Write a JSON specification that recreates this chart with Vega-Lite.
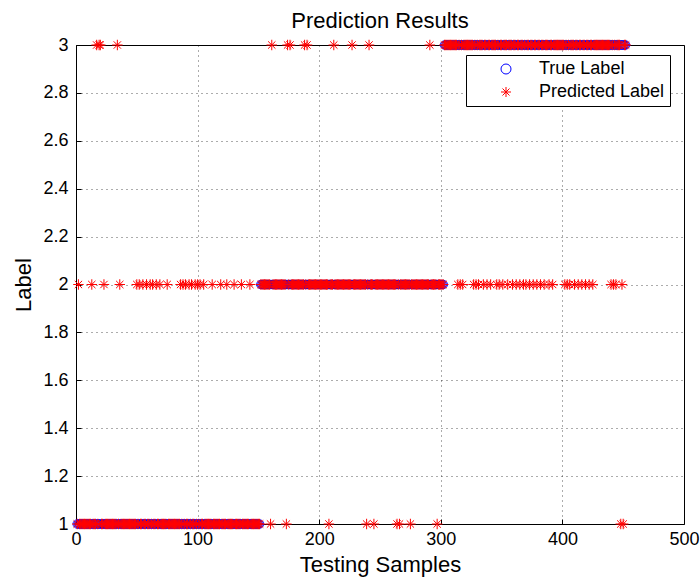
{
"$schema":"https://vega.github.io/schema/vega-lite/v6.json",
"width":608,"height":479,
"autosize":{"type":"none"},
"padding":{"left":76,"top":45,"right":16,"bottom":55},
"background":"white",
"title":{"text":"Prediction Results","fontSize":22,"font":"Liberation Sans","fontWeight":"normal","color":"black","offset":3},
"config":{"view":{"stroke":"black","strokeWidth":1},"font":"Liberation Sans"},
"data":{"values":[
{"s":1,"t":1,"p":1},{"s":2,"t":1,"p":2},{"s":3,"t":1,"p":1},{"s":4,"t":1,"p":1},{"s":5,"t":1,"p":1},{"s":6,"t":1,"p":1},{"s":7,"t":1,"p":1},{"s":8,"t":1,"p":1},{"s":9,"t":1,"p":1},{"s":10,"t":1,"p":1},
{"s":11,"t":1,"p":1},{"s":12,"t":1,"p":1},{"s":13,"t":1,"p":2},{"s":14,"t":1,"p":1},{"s":15,"t":1,"p":1},{"s":16,"t":1,"p":1},{"s":17,"t":1,"p":3},{"s":18,"t":1,"p":1},{"s":19,"t":1,"p":3},{"s":20,"t":1,"p":3},
{"s":21,"t":1,"p":1},{"s":22,"t":1,"p":1},{"s":23,"t":1,"p":2},{"s":24,"t":1,"p":1},{"s":25,"t":1,"p":1},{"s":26,"t":1,"p":1},{"s":27,"t":1,"p":1},{"s":28,"t":1,"p":1},{"s":29,"t":1,"p":1},{"s":30,"t":1,"p":1},
{"s":31,"t":1,"p":1},{"s":32,"t":1,"p":1},{"s":33,"t":1,"p":1},{"s":34,"t":1,"p":3},{"s":35,"t":1,"p":1},{"s":36,"t":1,"p":2},{"s":37,"t":1,"p":1},{"s":38,"t":1,"p":1},{"s":39,"t":1,"p":1},{"s":40,"t":1,"p":1},
{"s":41,"t":1,"p":1},{"s":42,"t":1,"p":1},{"s":43,"t":1,"p":1},{"s":44,"t":1,"p":1},{"s":45,"t":1,"p":1},{"s":46,"t":1,"p":1},{"s":47,"t":1,"p":1},{"s":48,"t":1,"p":1},{"s":49,"t":1,"p":1},{"s":50,"t":1,"p":2},
{"s":51,"t":1,"p":1},{"s":52,"t":1,"p":2},{"s":53,"t":1,"p":1},{"s":54,"t":1,"p":1},{"s":55,"t":1,"p":2},{"s":56,"t":1,"p":1},{"s":57,"t":1,"p":1},{"s":58,"t":1,"p":2},{"s":59,"t":1,"p":1},{"s":60,"t":1,"p":1},
{"s":61,"t":1,"p":2},{"s":62,"t":1,"p":1},{"s":63,"t":1,"p":2},{"s":64,"t":1,"p":1},{"s":65,"t":1,"p":1},{"s":66,"t":1,"p":2},{"s":67,"t":1,"p":1},{"s":68,"t":1,"p":1},{"s":69,"t":1,"p":2},{"s":70,"t":1,"p":1},
{"s":71,"t":1,"p":1},{"s":72,"t":1,"p":1},{"s":73,"t":1,"p":1},{"s":74,"t":1,"p":1},{"s":75,"t":1,"p":2},{"s":76,"t":1,"p":1},{"s":77,"t":1,"p":1},{"s":78,"t":1,"p":1},{"s":79,"t":1,"p":1},{"s":80,"t":1,"p":1},
{"s":81,"t":1,"p":1},{"s":82,"t":1,"p":1},{"s":83,"t":1,"p":1},{"s":84,"t":1,"p":1},{"s":85,"t":1,"p":1},{"s":86,"t":1,"p":2},{"s":87,"t":1,"p":1},{"s":88,"t":1,"p":2},{"s":89,"t":1,"p":1},{"s":90,"t":1,"p":2},
{"s":91,"t":1,"p":1},{"s":92,"t":1,"p":1},{"s":93,"t":1,"p":2},{"s":94,"t":1,"p":1},{"s":95,"t":1,"p":2},{"s":96,"t":1,"p":1},{"s":97,"t":1,"p":1},{"s":98,"t":1,"p":2},{"s":99,"t":1,"p":1},{"s":100,"t":1,"p":2},
{"s":101,"t":1,"p":1},{"s":102,"t":1,"p":2},{"s":103,"t":1,"p":1},{"s":104,"t":1,"p":1},{"s":105,"t":1,"p":2},{"s":106,"t":1,"p":1},{"s":107,"t":1,"p":1},{"s":108,"t":1,"p":1},{"s":109,"t":1,"p":1},{"s":110,"t":1,"p":1},
{"s":111,"t":1,"p":1},{"s":112,"t":1,"p":2},{"s":113,"t":1,"p":1},{"s":114,"t":1,"p":1},{"s":115,"t":1,"p":1},{"s":116,"t":1,"p":1},{"s":117,"t":1,"p":1},{"s":118,"t":1,"p":1},{"s":119,"t":1,"p":2},{"s":120,"t":1,"p":1},
{"s":121,"t":1,"p":1},{"s":122,"t":1,"p":1},{"s":123,"t":1,"p":1},{"s":124,"t":1,"p":2},{"s":125,"t":1,"p":1},{"s":126,"t":1,"p":1},{"s":127,"t":1,"p":1},{"s":128,"t":1,"p":1},{"s":129,"t":1,"p":1},{"s":130,"t":1,"p":2},
{"s":131,"t":1,"p":1},{"s":132,"t":1,"p":1},{"s":133,"t":1,"p":1},{"s":134,"t":1,"p":1},{"s":135,"t":1,"p":1},{"s":136,"t":1,"p":2},{"s":137,"t":1,"p":1},{"s":138,"t":1,"p":1},{"s":139,"t":1,"p":1},{"s":140,"t":1,"p":1},
{"s":141,"t":1,"p":1},{"s":142,"t":1,"p":1},{"s":143,"t":1,"p":2},{"s":144,"t":1,"p":1},{"s":145,"t":1,"p":1},{"s":146,"t":1,"p":1},{"s":147,"t":1,"p":1},{"s":148,"t":1,"p":1},{"s":149,"t":1,"p":1},{"s":150,"t":1,"p":1},
{"s":151,"t":1,"p":1},{"s":152,"t":2,"p":2},{"s":153,"t":2,"p":2},{"s":154,"t":2,"p":2},{"s":155,"t":2,"p":2},{"s":156,"t":2,"p":2},{"s":157,"t":2,"p":2},{"s":158,"t":2,"p":2},{"s":159,"t":2,"p":2},{"s":160,"t":2,"p":1},
{"s":161,"t":2,"p":3},{"s":162,"t":2,"p":2},{"s":163,"t":2,"p":2},{"s":164,"t":2,"p":2},{"s":165,"t":2,"p":2},{"s":166,"t":2,"p":2},{"s":167,"t":2,"p":2},{"s":168,"t":2,"p":2},{"s":169,"t":2,"p":2},{"s":170,"t":2,"p":2},
{"s":171,"t":2,"p":2},{"s":172,"t":2,"p":2},{"s":173,"t":2,"p":1},{"s":174,"t":2,"p":3},{"s":175,"t":2,"p":2},{"s":176,"t":2,"p":3},{"s":177,"t":2,"p":2},{"s":178,"t":2,"p":2},{"s":179,"t":2,"p":2},{"s":180,"t":2,"p":2},
{"s":181,"t":2,"p":2},{"s":182,"t":2,"p":2},{"s":183,"t":2,"p":2},{"s":184,"t":2,"p":2},{"s":185,"t":2,"p":2},{"s":186,"t":2,"p":2},{"s":187,"t":2,"p":2},{"s":188,"t":2,"p":3},{"s":189,"t":2,"p":2},{"s":190,"t":2,"p":3},
{"s":191,"t":2,"p":2},{"s":192,"t":2,"p":2},{"s":193,"t":2,"p":2},{"s":194,"t":2,"p":2},{"s":195,"t":2,"p":2},{"s":196,"t":2,"p":2},{"s":197,"t":2,"p":2},{"s":198,"t":2,"p":2},{"s":199,"t":2,"p":2},{"s":200,"t":2,"p":2},
{"s":201,"t":2,"p":2},{"s":202,"t":2,"p":2},{"s":203,"t":2,"p":2},{"s":204,"t":2,"p":2},{"s":205,"t":2,"p":2},{"s":206,"t":2,"p":2},{"s":207,"t":2,"p":2},{"s":208,"t":2,"p":1},{"s":209,"t":2,"p":2},{"s":210,"t":2,"p":2},
{"s":211,"t":2,"p":2},{"s":212,"t":2,"p":3},{"s":213,"t":2,"p":2},{"s":214,"t":2,"p":2},{"s":215,"t":2,"p":2},{"s":216,"t":2,"p":2},{"s":217,"t":2,"p":2},{"s":218,"t":2,"p":2},{"s":219,"t":2,"p":2},{"s":220,"t":2,"p":2},
{"s":221,"t":2,"p":2},{"s":222,"t":2,"p":2},{"s":223,"t":2,"p":2},{"s":224,"t":2,"p":2},{"s":225,"t":2,"p":2},{"s":226,"t":2,"p":2},{"s":227,"t":2,"p":3},{"s":228,"t":2,"p":2},{"s":229,"t":2,"p":2},{"s":230,"t":2,"p":2},
{"s":231,"t":2,"p":2},{"s":232,"t":2,"p":2},{"s":233,"t":2,"p":2},{"s":234,"t":2,"p":2},{"s":235,"t":2,"p":2},{"s":236,"t":2,"p":2},{"s":237,"t":2,"p":2},{"s":238,"t":2,"p":2},{"s":239,"t":2,"p":1},{"s":240,"t":2,"p":2},
{"s":241,"t":2,"p":3},{"s":242,"t":2,"p":2},{"s":243,"t":2,"p":2},{"s":244,"t":2,"p":2},{"s":245,"t":2,"p":1},{"s":246,"t":2,"p":2},{"s":247,"t":2,"p":2},{"s":248,"t":2,"p":2},{"s":249,"t":2,"p":2},{"s":250,"t":2,"p":2},
{"s":251,"t":2,"p":2},{"s":252,"t":2,"p":2},{"s":253,"t":2,"p":2},{"s":254,"t":2,"p":2},{"s":255,"t":2,"p":2},{"s":256,"t":2,"p":2},{"s":257,"t":2,"p":2},{"s":258,"t":2,"p":2},{"s":259,"t":2,"p":2},{"s":260,"t":2,"p":2},
{"s":261,"t":2,"p":2},{"s":262,"t":2,"p":2},{"s":263,"t":2,"p":2},{"s":264,"t":2,"p":1},{"s":265,"t":2,"p":2},{"s":266,"t":2,"p":1},{"s":267,"t":2,"p":2},{"s":268,"t":2,"p":2},{"s":269,"t":2,"p":2},{"s":270,"t":2,"p":2},
{"s":271,"t":2,"p":2},{"s":272,"t":2,"p":2},{"s":273,"t":2,"p":2},{"s":274,"t":2,"p":2},{"s":275,"t":2,"p":1},{"s":276,"t":2,"p":2},{"s":277,"t":2,"p":2},{"s":278,"t":2,"p":2},{"s":279,"t":2,"p":2},{"s":280,"t":2,"p":2},
{"s":281,"t":2,"p":2},{"s":282,"t":2,"p":2},{"s":283,"t":2,"p":2},{"s":284,"t":2,"p":2},{"s":285,"t":2,"p":2},{"s":286,"t":2,"p":2},{"s":287,"t":2,"p":2},{"s":288,"t":2,"p":2},{"s":289,"t":2,"p":2},{"s":290,"t":2,"p":2},
{"s":291,"t":2,"p":3},{"s":292,"t":2,"p":2},{"s":293,"t":2,"p":2},{"s":294,"t":2,"p":2},{"s":295,"t":2,"p":2},{"s":296,"t":2,"p":2},{"s":297,"t":2,"p":1},{"s":298,"t":2,"p":2},{"s":299,"t":2,"p":2},{"s":300,"t":2,"p":2},
{"s":301,"t":2,"p":2},{"s":302,"t":2,"p":2},{"s":303,"t":3,"p":3},{"s":304,"t":3,"p":3},{"s":305,"t":3,"p":3},{"s":306,"t":3,"p":3},{"s":307,"t":3,"p":3},{"s":308,"t":3,"p":3},{"s":309,"t":3,"p":3},{"s":310,"t":3,"p":3},
{"s":311,"t":3,"p":3},{"s":312,"t":3,"p":3},{"s":313,"t":3,"p":3},{"s":314,"t":3,"p":2},{"s":315,"t":3,"p":3},{"s":316,"t":3,"p":2},{"s":317,"t":3,"p":3},{"s":318,"t":3,"p":2},{"s":319,"t":3,"p":3},{"s":320,"t":3,"p":3},
{"s":321,"t":3,"p":3},{"s":322,"t":3,"p":3},{"s":323,"t":3,"p":3},{"s":324,"t":3,"p":3},{"s":325,"t":3,"p":3},{"s":326,"t":3,"p":3},{"s":327,"t":3,"p":2},{"s":328,"t":3,"p":3},{"s":329,"t":3,"p":2},{"s":330,"t":3,"p":3},
{"s":331,"t":3,"p":2},{"s":332,"t":3,"p":3},{"s":333,"t":3,"p":3},{"s":334,"t":3,"p":3},{"s":335,"t":3,"p":2},{"s":336,"t":3,"p":3},{"s":337,"t":3,"p":3},{"s":338,"t":3,"p":2},{"s":339,"t":3,"p":3},{"s":340,"t":3,"p":3},
{"s":341,"t":3,"p":2},{"s":342,"t":3,"p":3},{"s":343,"t":3,"p":3},{"s":344,"t":3,"p":3},{"s":345,"t":3,"p":3},{"s":346,"t":3,"p":2},{"s":347,"t":3,"p":3},{"s":348,"t":3,"p":2},{"s":349,"t":3,"p":3},{"s":350,"t":3,"p":3},
{"s":351,"t":3,"p":2},{"s":352,"t":3,"p":3},{"s":353,"t":3,"p":3},{"s":354,"t":3,"p":3},{"s":355,"t":3,"p":2},{"s":356,"t":3,"p":3},{"s":357,"t":3,"p":3},{"s":358,"t":3,"p":3},{"s":359,"t":3,"p":2},{"s":360,"t":3,"p":3},
{"s":361,"t":3,"p":3},{"s":362,"t":3,"p":2},{"s":363,"t":3,"p":3},{"s":364,"t":3,"p":3},{"s":365,"t":3,"p":2},{"s":366,"t":3,"p":3},{"s":367,"t":3,"p":3},{"s":368,"t":3,"p":2},{"s":369,"t":3,"p":3},{"s":370,"t":3,"p":2},
{"s":371,"t":3,"p":3},{"s":372,"t":3,"p":3},{"s":373,"t":3,"p":2},{"s":374,"t":3,"p":3},{"s":375,"t":3,"p":3},{"s":376,"t":3,"p":2},{"s":377,"t":3,"p":3},{"s":378,"t":3,"p":3},{"s":379,"t":3,"p":2},{"s":380,"t":3,"p":3},
{"s":381,"t":3,"p":3},{"s":382,"t":3,"p":2},{"s":383,"t":3,"p":3},{"s":384,"t":3,"p":3},{"s":385,"t":3,"p":2},{"s":386,"t":3,"p":3},{"s":387,"t":3,"p":3},{"s":388,"t":3,"p":3},{"s":389,"t":3,"p":2},{"s":390,"t":3,"p":3},
{"s":391,"t":3,"p":3},{"s":392,"t":3,"p":2},{"s":393,"t":3,"p":3},{"s":394,"t":3,"p":3},{"s":395,"t":3,"p":3},{"s":396,"t":3,"p":3},{"s":397,"t":3,"p":3},{"s":398,"t":3,"p":3},{"s":399,"t":3,"p":3},{"s":400,"t":3,"p":3},
{"s":401,"t":3,"p":3},{"s":402,"t":3,"p":2},{"s":403,"t":3,"p":3},{"s":404,"t":3,"p":2},{"s":405,"t":3,"p":3},{"s":406,"t":3,"p":2},{"s":407,"t":3,"p":3},{"s":408,"t":3,"p":3},{"s":409,"t":3,"p":3},{"s":410,"t":3,"p":2},
{"s":411,"t":3,"p":3},{"s":412,"t":3,"p":3},{"s":413,"t":3,"p":2},{"s":414,"t":3,"p":3},{"s":415,"t":3,"p":3},{"s":416,"t":3,"p":2},{"s":417,"t":3,"p":3},{"s":418,"t":3,"p":3},{"s":419,"t":3,"p":2},{"s":420,"t":3,"p":3},
{"s":421,"t":3,"p":3},{"s":422,"t":3,"p":2},{"s":423,"t":3,"p":3},{"s":424,"t":3,"p":3},{"s":425,"t":3,"p":2},{"s":426,"t":3,"p":3},{"s":427,"t":3,"p":3},{"s":428,"t":3,"p":3},{"s":429,"t":3,"p":3},{"s":430,"t":3,"p":3},
{"s":431,"t":3,"p":3},{"s":432,"t":3,"p":3},{"s":433,"t":3,"p":3},{"s":434,"t":3,"p":3},{"s":435,"t":3,"p":3},{"s":436,"t":3,"p":3},{"s":437,"t":3,"p":3},{"s":438,"t":3,"p":3},{"s":439,"t":3,"p":3},{"s":440,"t":3,"p":2},
{"s":441,"t":3,"p":3},{"s":442,"t":3,"p":2},{"s":443,"t":3,"p":3},{"s":444,"t":3,"p":2},{"s":445,"t":3,"p":3},{"s":446,"t":3,"p":3},{"s":447,"t":3,"p":3},{"s":448,"t":3,"p":1},{"s":449,"t":3,"p":2},{"s":450,"t":3,"p":1},
{"s":451,"t":3,"p":3},{"s":452,"t":3,"p":3}
]},
"layer":[
{"mark":{"type":"point","filled":false,"size":70,"strokeWidth":1,"opacity":1},
 "encoding":{
  "x":{"field":"s","type":"quantitative","scale":{"domain":[0,500],"nice":false,"zero":false},
       "axis":{"title":"Testing Samples","titleFontSize":22,"titleFontWeight":"normal","titleColor":"black","titlePadding":6,
               "values":[0,100,200,300,400,500],"labelFontSize":18,"labelColor":"black","labelPadding":11,
               "grid":true,"gridColor":"#000","gridOpacity":0.65,"gridDash":[1,4],"gridWidth":1,
               "domain":false,"ticks":true,"tickSize":-5,"tickColor":"black","labelFlush":false}},
  "y":{"field":"t","type":"quantitative","scale":{"domain":[1,3],"nice":false,"zero":false},
       "axis":{"title":"Label","titleFontSize":22,"titleFontWeight":"normal","titleColor":"black","titlePadding":7,
               "values":[1,1.2,1.4,1.6,1.8,2,2.2,2.4,2.6,2.8,3],"format":"~g","labelFontSize":18,"labelColor":"black","labelPadding":13,
               "grid":true,"gridColor":"#000","gridOpacity":0.65,"gridDash":[1,4],"gridWidth":1,
               "domain":false,"ticks":true,"tickSize":-5,"tickColor":"black","labelFlush":false}},
  "color":{"datum":"True Label","type":"nominal","scale":{"domain":["True Label","Predicted Label"],"range":["#0000ff","#ff0000"]},
           "legend":{"title":null,"orient":"none","legendX":390,"legendY":10,"direction":"vertical","fillColor":"white","strokeColor":"black","padding":5,"cornerRadius":0,
                     "labelFontSize":18,"labelColor":"black","labelFont":"Liberation Sans","symbolSize":100,"symbolStrokeWidth":1,"symbolOffset":26,"labelOffset":24,"rowPadding":5}},
  "shape":{"datum":"True Label","type":"nominal","scale":{"domain":["True Label","Predicted Label"],"range":["circle","M0,-1L0,1M-1,0L1,0M-0.7,-0.7L0.7,0.7M-0.7,0.7L0.7,-0.7"]},
           "legend":{"title":null,"orient":"none","legendX":390,"legendY":10,"direction":"vertical","fillColor":"white","strokeColor":"black","padding":5,"cornerRadius":0,
                     "labelFontSize":18,"labelColor":"black","labelFont":"Liberation Sans","symbolSize":100,"symbolStrokeWidth":1,"symbolOffset":26,"labelOffset":24,"rowPadding":5}}
 }},
{"mark":{"type":"point","filled":false,"size":110,"strokeWidth":1,"opacity":1},
 "encoding":{
  "x":{"field":"s","type":"quantitative"},
  "y":{"field":"p","type":"quantitative"},
  "color":{"datum":"Predicted Label","type":"nominal"},
  "shape":{"datum":"Predicted Label","type":"nominal"}
 }}
]
}
